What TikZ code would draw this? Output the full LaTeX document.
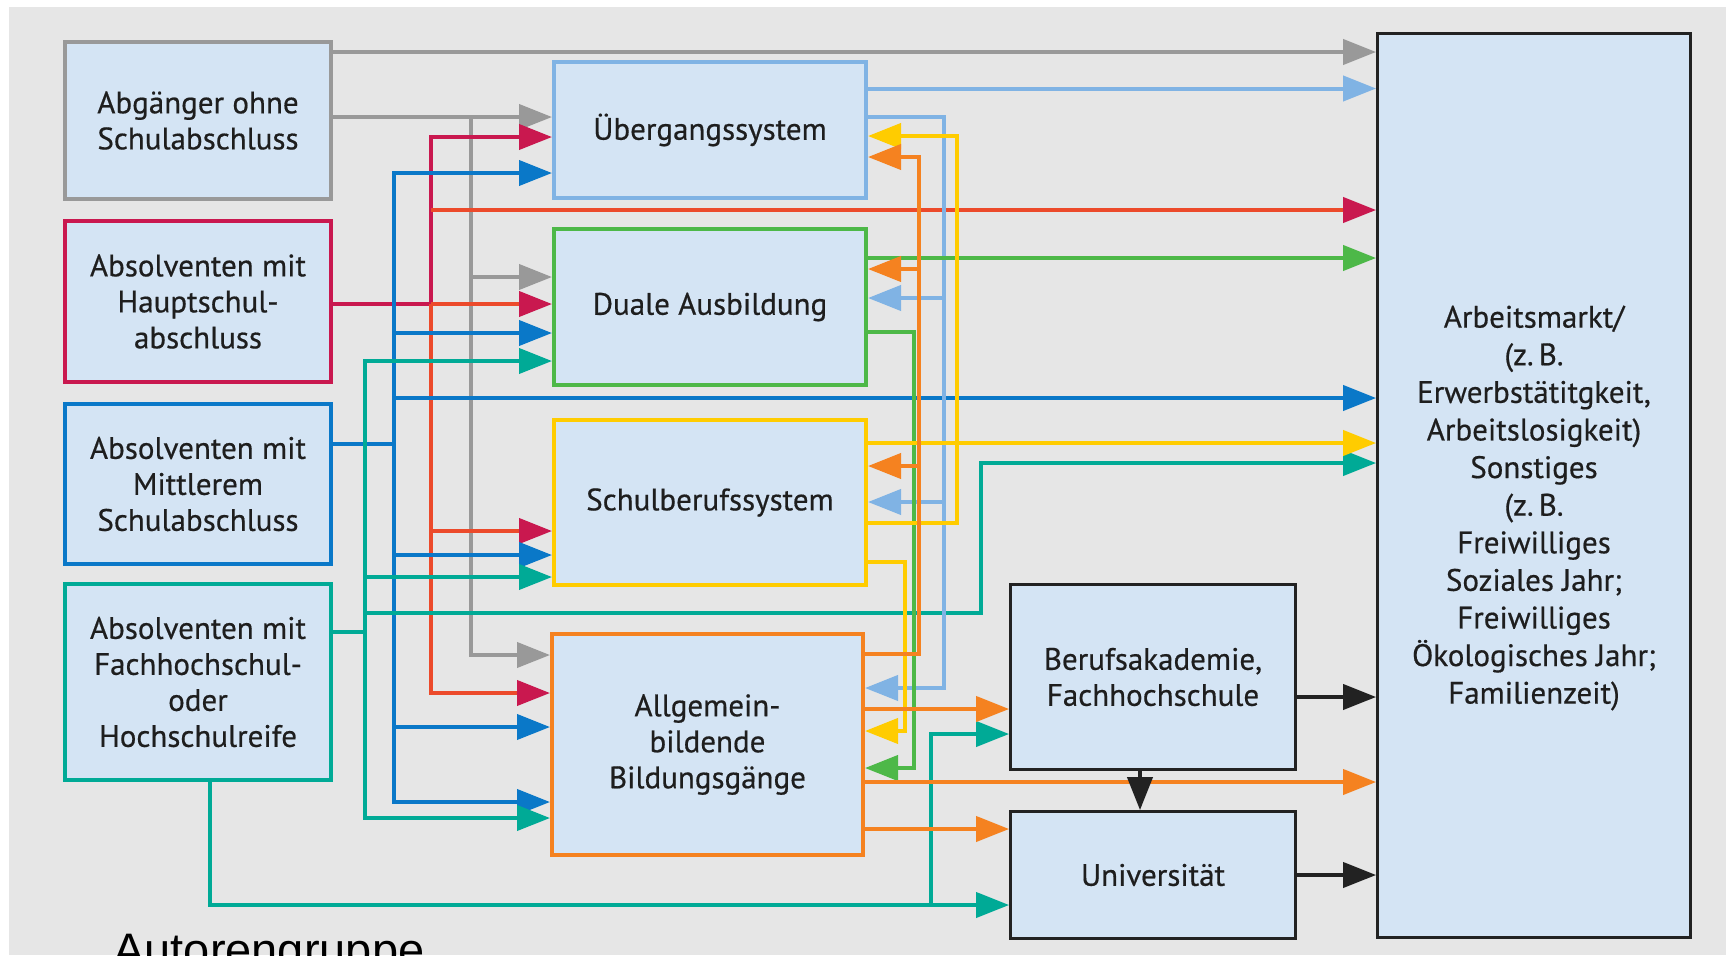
\documentclass[tikz,border=0pt]{standalone}
\usepackage{fontspec}
\setmainfont{PT Sans}[FakeBold=0.5]
\setsansfont{Liberation Sans}
\usetikzlibrary{arrows.meta}
\definecolor{bggray}{HTML}{E6E6E6}
\definecolor{boxfill}{HTML}{D4E4F4}
\definecolor{txtcol}{HTML}{1E1E1E}
\definecolor{cgray}{HTML}{999999}
\definecolor{ccrimson}{HTML}{C9184F}
\definecolor{cred}{HTML}{EC4A2B}
\definecolor{cblue}{HTML}{0A78C8}
\definecolor{cteal}{HTML}{00AA96}
\definecolor{clight}{HTML}{80B3E4}
\definecolor{cgreen}{HTML}{4DB848}
\definecolor{cyellow}{HTML}{FFCC00}
\definecolor{corange}{HTML}{F58220}
\definecolor{cblack}{HTML}{222222}
\begin{document}
\begin{tikzpicture}[x=0.5pt,y=-0.5pt]

      \tikzset{stage/.style={draw, line width=2pt, fill=boxfill, text=txtcol, align=center, inner sep=0pt, font=\fontsize{15.5}{18}\selectfont},
               flow/.style={line width=2pt, -{Triangle[length=16.5pt,width=12.5pt]}},
               redflow/.style={line width=2pt, cred, -{Triangle[length=16.5pt,width=12.5pt,color=ccrimson]}},
               plain/.style={line width=2pt}}
      \useasboundingbox (0,0) rectangle (1726,955);
      \clip (0,0) rectangle (1726,955);
      \fill[white] (0,0) rectangle (1726,955);
      \fill[bggray] (9,7) rectangle (1726,955);
%% Boxes
      	\node[stage, draw=cgray, minimum width=133pt, minimum height=78.5pt] (abg) at (198,120.5) {Abgänger ohne\\Schulabschluss};
      	\node[stage, draw=ccrimson, minimum width=133pt, minimum height=80.5pt] (haupt) at (198,301.5) {Absolventen mit\\Hauptschul-\\abschluss};
      	\node[stage, draw=cblue, minimum width=133pt, minimum height=80pt] (mittl) at (198,484) {Absolventen mit\\Mittlerem\\Schulabschluss};
      	\node[stage, draw=cteal, minimum width=133pt, minimum height=98pt] (fach) at (198,682) {Absolventen mit\\Fachhochschul-\\oder\\Hochschulreife};
      	\node[stage, draw=clight, minimum width=156pt, minimum height=68pt] (ueb) at (710,130) {Übergangssystem};
      	\node[stage, draw=cgreen, minimum width=156pt, minimum height=78pt] (dual) at (710,307) {Duale Ausbildung};
      	\node[stage, draw=cyellow, minimum width=156pt, minimum height=82.5pt] (schul) at (710,502.5) {Schulberufssystem};
      	\node[stage, draw=corange, minimum width=155.5pt, minimum height=110.5pt] (allg) at (707.5,744.5) {Allgemein-\\bildende\\Bildungsgänge};
      	\node[stage, draw=cblack, line width=1.4pt, minimum width=142.5pt, minimum height=92.5pt] (beruf) at (1153,677) {Berufsakademie,\\Fachhochschule};
      	\node[stage, draw=cblack, line width=1.4pt, minimum width=142.5pt, minimum height=63.5pt] (uni) at (1153,875) {Universität};
      	\node[stage, draw=cblack, line width=1.4pt, minimum width=156.5pt, minimum height=452pt] (arb) at (1534,485.5) {};
      	\node[text=txtcol, align=center, font=\fontsize{15.5}{18.8}\selectfont] (arbtext) at (1534,508) {Arbeitsmarkt/\\(z.\,B.\\Erwerbstätitgkeit,\\Arbeitslosigkeit)\\Sonstiges\\(z.\,B.\\Freiwilliges\\Soziales Jahr;\\Freiwilliges\\Ökologisches Jahr;\\Familienzeit)};
      	\node[font=\sffamily\fontsize{23.5}{28}\selectfont, anchor=base west, inner sep=0pt] (quelle) at (113,966) {Autorengruppe};
%% Bends
		\coordinate (abgbus) at (471,117);
		\coordinate (hauptbus) at (431,304);
		\coordinate (hauptop) at (431,137);
		\coordinate (hauptbot) at (431,693);
		\coordinate (mittltop) at (394,173);
		\coordinate (mittlbot) at (394,802);
		\coordinate (fachtop) at (365,361);
		\coordinate (fachbot) at (365,818);
		\coordinate (fachturn) at (981,613);
		\coordinate (fachuni) at (931,905);
		\coordinate (uebbot) at (944,688);
		\coordinate (schultop) at (957,136);
		\coordinate (schulbot) at (905,731);
		\coordinate (dualbot) at (914,768);
		\coordinate (allgtop) at (919,157);
%Arrows
		\draw[flow, cgray] (abg.east |- 0,52) -- (arb.west |- 0,52);
		\draw[flow, cgray] (abg.east |- abgbus) -- (ueb.west |- abgbus);
		\draw[flow, cgray] (abgbus) |- (dual.west |- 0,277);
		\draw[flow, cgray] (abgbus) |- (allg.west |- 0,655);

		\draw[flow, ccrimson] (haupt.east |- hauptbus) -| (hauptop) -- (ueb.west |- hauptop);
		\draw[redflow] (hauptbus) -- (dual.west |- hauptbus);
		\draw[redflow] (hauptbus |- 0,210) -- (arb.west |- 0,210);
		\draw[redflow] (hauptbus) |- (schul.west |- 0,531);
		\draw[redflow] (hauptbus) |- (allg.west |- hauptbot);

		\draw[plain, cblue] (mittl.east |- 0,444) -- (mittltop |- 0,444);
		\draw[flow, cblue] (mittlbot) |- (ueb.west |- mittltop);
		\draw[flow, cblue] (mittltop) |- (dual.west |- 0,333);
		\draw[flow, cblue] (mittltop) |- (arb.west |- 0,398);
		\draw[flow, cblue] (mittltop) |- (schul.west |- 0,555);
		\draw[flow, cblue] (mittltop) |- (allg.west |- 0,727);
		\draw[flow, cblue] (mittltop) |- (allg.west |- mittlbot);

		\draw[plain, cteal] (fach.east |- 0,632) -- (fachtop |- 0,632);
		\draw[flow, cteal] (fachbot) |- (dual.west |- fachtop);
		\draw[flow, cteal] (fachtop) |- (schul.west |- 0,577);
		\draw[flow, cteal] (fachtop) |- (fachturn) |- (arb.west |- 0,463);
		\draw[flow, cteal] (fachtop) |- (allg.west |- fachbot);
		\draw[flow, cteal] (fach.south -| 210,0) |- (uni.west |- fachuni);
		\draw[flow, cteal] (fachuni) |- (beruf.west |- 0,734);

		\draw[flow, clight] (ueb.east |- 0,88.5) -- (arb.west |- 0,88.5);
		\draw[flow, clight] (ueb.east |- 0,117) -| (uebbot) -- (allg.east |- uebbot);
		\draw[flow, clight] (uebbot) |- (dual.east |- 0,298);
		\draw[flow, clight] (uebbot) |- (schul.east |- 0,502);

		\draw[flow, cgreen] (dual.east |- 0,258) -- (arb.west |- 0,258);
		\draw[flow, cgreen] (dual.east |- 0,332) -| (dualbot) -- (allg.east |- dualbot);

		\draw[flow, cyellow] (schul.east |- 0,443) -- (arb.west |- 0,443);
		\draw[flow, cyellow] (schul.east |- 0,523) -| (schultop) -- (ueb.east |- schultop);
		\draw[flow, cyellow] (schul.east |- 0,562) -| (schulbot) -- (allg.east |- schulbot);

		\draw[flow, corange] (allg.east |- 0,654) -| (allgtop) -- (ueb.east |- allgtop);
		\draw[flow, corange] (allgtop) |- (dual.east |- 0,269);
		\draw[flow, corange] (allgtop) |- (schul.east |- 0,466);
		\draw[flow, corange] (allg.east |- 0,709) -- (beruf.west |- 0,709);
		\draw[flow, corange] (allg.east |- 0,782) -- (arb.west |- 0,782);
		\draw[flow, corange] (allg.east |- 0,829) -- (uni.west |- 0,829);

		\draw[flow, cblack] (beruf.east |- 0,697) -- (arb.west |- 0,697);
		\draw[flow, cblack] (uni.east) -- (arb.west |- uni.east);
		\draw[flow, cblack] (beruf.south -| 1140,0) -- (uni.north -| 1140,0);

	\end{tikzpicture}
\end{document}
